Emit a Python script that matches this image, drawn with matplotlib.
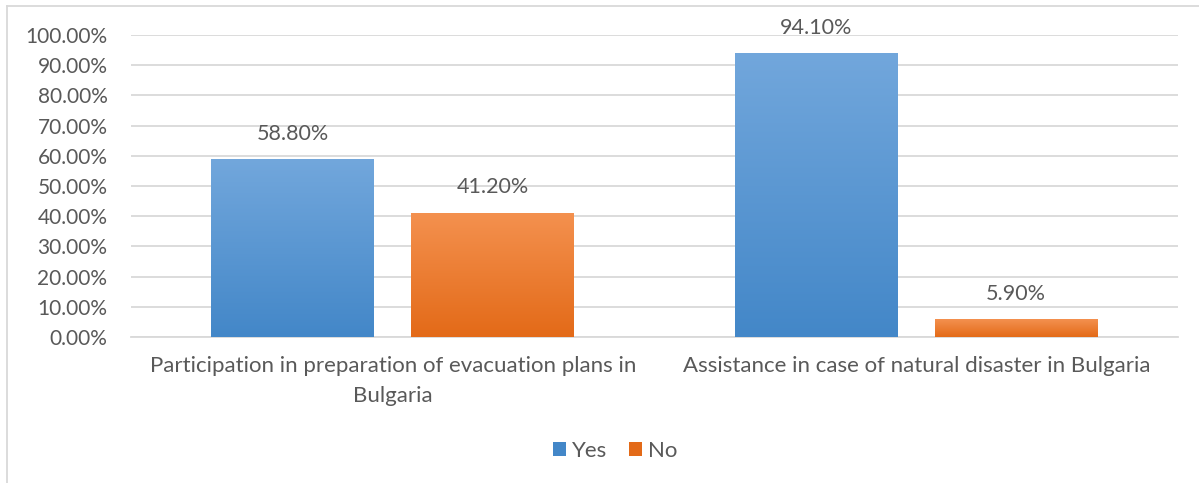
import numpy as np
import matplotlib.pyplot as plt
from matplotlib.colors import LinearSegmentedColormap
from matplotlib.patches import Patch
from matplotlib.lines import Line2D

categories = ['Participation in preparation of evacuation plans in\nBulgaria',
              'Assistance in case of natural disaster in Bulgaria']
series = ['Yes', 'No']
yes_vals = [0.588, 0.941]
no_vals = [0.412, 0.059]

blue_top, blue_bot = '#72A7DC', '#4387C8'
orange_top, orange_bot = '#F4914F', '#E36A18'
text_col = '#595959'

plt.rcParams['font.family'] = ['Lato', 'DejaVu Sans']

fig = plt.figure(figsize=(11.99, 4.83), dpi=100)
ax = fig.add_axes([0.1093, 0.3023, 0.9825 - 0.1093, 0.9275 - 0.3023])

x = np.arange(len(categories))
width = 0.311
off = 0.191


def grad_bars(xs, vals, top, bot):
    cmap = LinearSegmentedColormap.from_list('g', [bot, top])
    grad = np.linspace(0, 1, 256).reshape(-1, 1)
    bars = ax.bar(xs, vals, width, color=bot, zorder=2)
    for b in bars:
        bx, by = b.get_x(), b.get_y()
        w, h = b.get_width(), b.get_height()
        b.set_facecolor('none')
        b.set_edgecolor('none')
        im = ax.imshow(grad, cmap=cmap, origin='lower', aspect='auto',
                       extent=[bx, bx + w, by, by + h], zorder=3)
        im.set_clip_path(b)
    return bars


b1 = grad_bars(x - off, yes_vals, blue_top, blue_bot)
b2 = grad_bars(x + off, no_vals, orange_top, orange_bot)

for bars, vals in [(b1, yes_vals), (b2, no_vals)]:
    for b, v in zip(bars, vals):
        ax.annotate(f'{v * 100:.2f}%', (b.get_x() + b.get_width() / 2, v),
                    xytext=(0, 11), textcoords='offset points',
                    ha='center', va='bottom', fontsize=15.5, color=text_col)

ax.set_xlim(-0.5, 1.5)
ax.set_ylim(0, 1.0)
ax.set_yticks(np.arange(0, 1.01, 0.1))
ax.set_yticklabels([f'{v * 100:.2f}%' for v in np.arange(0, 1.01, 0.1)])
ax.set_xticks(x)
ax.set_xticklabels(categories)
ax.tick_params(axis='y', length=0, pad=17, labelsize=15, labelcolor=text_col)
ax.tick_params(axis='x', length=0, pad=14, labelsize=16, labelcolor=text_col)
for lbl in ax.get_xticklabels():
    lbl.set_linespacing(1.6)

ax.grid(axis='y', color='#D9D9D9', linewidth=1.3, zorder=0)
ax.set_axisbelow(True)
for s in ['top', 'right', 'left']:
    ax.spines[s].set_visible(False)
ax.spines['bottom'].set_color('#D9D9D9')
ax.spines['bottom'].set_linewidth(1.3)

handles = [Patch(facecolor=blue_bot), Patch(facecolor=orange_bot)]
fig.legend(handles, series, loc='center', bbox_to_anchor=(0.513, 0.066), ncol=2,
           frameon=False, fontsize=16, labelcolor=text_col,
           handlelength=0.6, handleheight=0.6, handletextpad=0.25, columnspacing=1.0)

# chart border
fig.add_artist(Line2D([7 / 1199, 7 / 1199], [0, 1 - 6 / 483], color='#D9D9D9', lw=1.3))
fig.add_artist(Line2D([7 / 1199, 1], [1 - 6 / 483, 1 - 6 / 483], color='#D9D9D9', lw=1.3))

fig.savefig('out.png', dpi=100)
